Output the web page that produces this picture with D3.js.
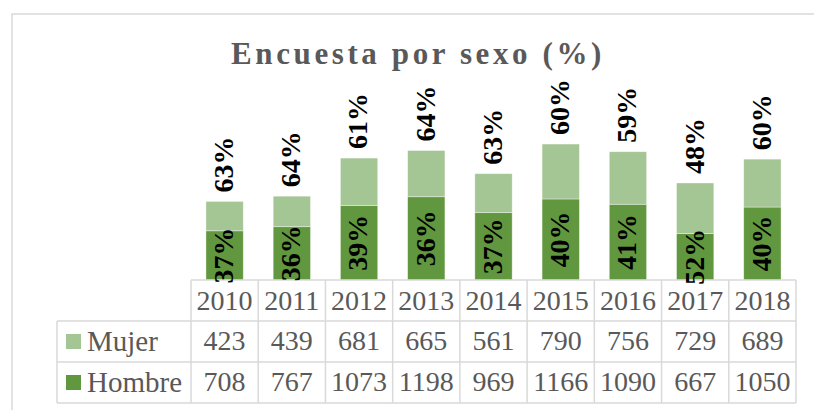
<!DOCTYPE html>
<html>
<head>
<meta charset="utf-8">
<script src="https://cdn.jsdelivr.net/npm/d3@7"></script>
<style>
  body { margin: 0; background: #fff; }
  text { font-family: "Liberation Serif", "Times New Roman", serif; }
</style>
</head>
<body>
<svg width="814" height="410"></svg>
<script>
const years = ["2010", "2011", "2012", "2013", "2014", "2015", "2016", "2017", "2018"];
const mujer = [423, 439, 681, 665, 561, 790, 756, 729, 689];
const hombre = [708, 767, 1073, 1198, 969, 1166, 1090, 667, 1050];
const mujerPct = ["63%", "64%", "61%", "64%", "63%", "60%", "59%", "48%", "60%"];
const hombrePct = ["37%", "36%", "39%", "36%", "37%", "40%", "41%", "52%", "40%"];
const seriesNames = ["Mujer", "Hombre"];

const colors = { Mujer: "#A4C594", Hombre: "#61973E" };
const gridColor = "#D9D9D9";
const textColor = "#595959";

const svg = d3.select("svg");

// chart frame
svg.append("rect")
    .attr("x", 12).attr("y", 14)
    .attr("width", 830).attr("height", 420)
    .attr("fill", "none")
    .attr("stroke", gridColor)
    .attr("stroke-width", 1.5);

svg.append("text")
    .attr("x", 418).attr("y", 64)
    .attr("text-anchor", "middle")
    .attr("font-size", 31)
    .attr("font-weight", "bold")
    .attr("letter-spacing", 3.6)
    .attr("fill", textColor)
    .text("Encuesta por sexo (%)");

const tableLeft = 57, plotLeft = 191, plotRight = 796;
const axisY = 280;

const x = d3.scaleBand()
    .domain(years)
    .range([plotLeft, plotRight])
    .paddingInner(0.445)
    .paddingOuter(0.2225);

const y = d3.scaleLinear()
    .domain([0, 2000])
    .range([axisY, 141]);

const rows = d3.scaleBand()
    .domain(["header", ...seriesNames])
    .range([axisY, 403]);

const data = years.map((yr, i) => ({ year: yr, Hombre: hombre[i], Mujer: mujer[i] }));
const stacked = d3.stack().keys(["Hombre", "Mujer"])(data);

svg.append("g")
    .selectAll("g")
    .data(stacked)
    .join("g")
    .attr("fill", d => colors[d.key])
    .selectAll("rect")
    .data(d => d)
    .join("rect")
    .attr("x", d => x(d.data.year))
    .attr("y", d => y(d[1]))
    .attr("width", x.bandwidth())
    .attr("height", d => y(d[0]) - y(d[1]))
    .attr("stroke", "#fff")
    .attr("stroke-opacity", 0.5)
    .attr("stroke-width", 0.75);

// data table
const colEdge = yr => x(yr) - x.step() * x.paddingInner() / 2;
const table = svg.append("g")
    .attr("stroke", gridColor)
    .attr("stroke-width", 1.5);

table.append("line")
    .attr("x1", plotLeft).attr("x2", plotRight)
    .attr("y1", axisY).attr("y2", axisY);
seriesNames.forEach(s => {
    table.append("line")
        .attr("x1", tableLeft).attr("x2", plotRight)
        .attr("y1", rows(s)).attr("y2", rows(s));
});
table.append("line")
    .attr("x1", tableLeft).attr("x2", plotRight)
    .attr("y1", rows.range()[1]).attr("y2", rows.range()[1]);
table.append("line")
    .attr("x1", tableLeft).attr("x2", tableLeft)
    .attr("y1", rows("Mujer")).attr("y2", rows.range()[1]);
years.forEach(yr => {
    table.append("line")
        .attr("x1", colEdge(yr)).attr("x2", colEdge(yr))
        .attr("y1", axisY).attr("y2", rows.range()[1]);
});
table.append("line")
    .attr("x1", plotRight).attr("x2", plotRight)
    .attr("y1", axisY).attr("y2", rows.range()[1]);

const cellText = svg.append("g")
    .attr("fill", textColor)
    .attr("font-size", 28)
    .attr("text-anchor", "middle");

const midX = yr => x(yr) + x.bandwidth() / 2;
const rowMid = r => rows(r) + rows.bandwidth() / 2;

cellText.selectAll(".yr")
    .data(years)
    .join("text")
    .attr("x", d => midX(d))
    .attr("y", rowMid("header"))
    .attr("dy", "0.34em")
    .text(d => d);

[["Mujer", mujer], ["Hombre", hombre]].forEach(([name, vals]) => {
    cellText.append("g").selectAll("text")
        .data(vals)
        .join("text")
        .attr("x", (d, i) => midX(years[i]))
        .attr("y", rowMid(name))
        .attr("dy", "0.32em")
        .text(d => d);

    svg.append("rect")
        .attr("x", 66)
        .attr("y", rowMid(name) - 7.5)
        .attr("width", 15).attr("height", 15)
        .attr("fill", colors[name]);

    svg.append("text")
        .attr("x", 87)
        .attr("y", rowMid(name))
        .attr("dy", "0.32em")
        .attr("font-size", 29)
        .attr("fill", textColor)
        .text(name);
});

// rotated percentage labels
const labels = svg.append("g")
    .attr("font-size", 28)
    .attr("font-weight", "bold")
    .attr("fill", "#000");

labels.selectAll(".h")
    .data(stacked[0])
    .join("text")
    .attr("transform", (d, i) => `translate(${midX(years[i])},${(y(d[0]) + y(d[1])) / 2}) rotate(-90)`)
    .attr("text-anchor", "middle")
    .attr("dy", "0.3em")
    .text((d, i) => hombrePct[i]);

labels.selectAll(".m")
    .data(stacked[1])
    .join("text")
    .attr("transform", (d, i) => `translate(${midX(years[i])},${y(d[1]) - 9}) rotate(-90)`)
    .attr("text-anchor", "start")
    .attr("dy", "0.3em")
    .text((d, i) => mujerPct[i]);
</script>
</body>
</html>
